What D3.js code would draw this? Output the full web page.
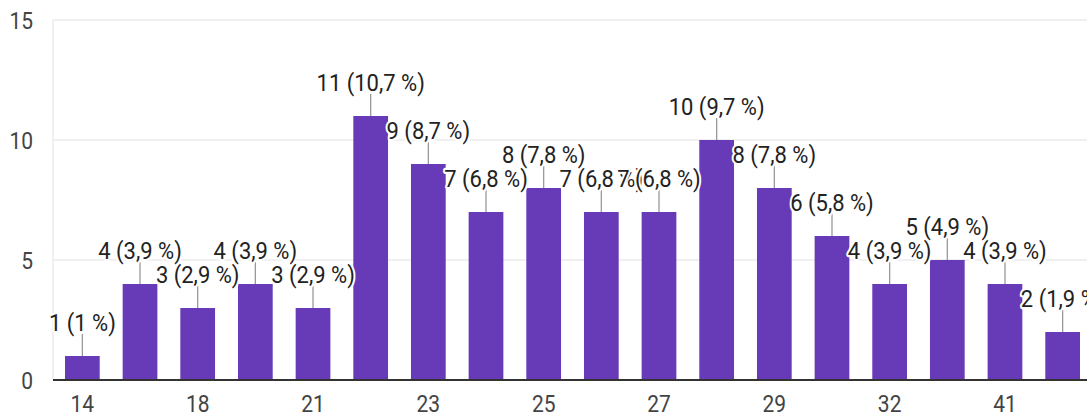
<!DOCTYPE html>
<html>
<head>
<meta charset="utf-8">
<script src="https://cdn.jsdelivr.net/npm/d3@7"></script>
<style>
  html, body { margin: 0; padding: 0; background: #fff; }
  svg { display: block; font-family: Roboto, "Noto Sans", Arial, sans-serif; }
</style>
</head>
<body>
<div class="chart"></div>
<script>
// answers (age) and how many people gave them
const ages = ['14', '16', '18', '19', '21', '22', '23', '24', '25', '26', '27', '28', '29', '30', '32', '35', '41', '45'];
const counts = [1, 4, 3, 4, 3, 11, 9, 7, 8, 7, 7, 10, 8, 6, 4, 5, 4, 2];
const yTicks = [0, 5, 10, 15];

const width = 1087, height = 418;
const barColor = '#673ab7';
const stretch = 1.15;   // the text in the picture is a bit taller than Roboto

const svg = d3.select('.chart')
  .append('svg')
    .attr('width', width)
    .attr('height', height);

const total = d3.sum(counts);
const data = ages.map((a, i) => ({ age: a, cnt: counts[i], idx: i }));

const x = d3.scaleBand()
  .domain(ages)
  .range([53, 1092])
  .paddingInner(0.398)
  .paddingOuter(0.208);

const y = d3.scaleLinear()
  .domain([0, 15])
  .range([380, 20]);

// gridlines
svg.append('g')
  .selectAll('line')
  .data(yTicks.filter(d => d > 0))
  .enter().append('line')
    .attr('x1', 53).attr('x2', width)
    .attr('y1', d => y(d)).attr('y2', d => y(d))
    .attr('stroke', '#ebebeb')
    .attr('stroke-width', 1.5);

svg.append('line')
  .attr('x1', 53).attr('x2', 53)
  .attr('y1', y(15)).attr('y2', y(0))
  .attr('stroke', '#ebebeb')
  .attr('stroke-width', 1.5);

// y axis labels
const yAxis = d3.axisLeft(y).tickValues(yTicks).tickSize(0).tickPadding(0);
const yAxisGroup = svg.append('g')
  .attr('transform', 'translate(33, 0)')
  .call(yAxis);
yAxisGroup.select('.domain').remove();
yAxisGroup.selectAll('text')
  .attr('x', 0).attr('y', 0).attr('dy', 0)
  .attr('transform', `translate(0, 8.5) scale(1, ${stretch})`)
  .attr('fill', '#444')
  .attr('font-size', 21)
  .attr('font-family', 'Roboto, sans-serif');

// bars
svg.append('g')
  .selectAll('rect')
  .data(data)
  .enter().append('rect')
    .attr('x', d => x(d.age))
    .attr('width', x.bandwidth())
    .attr('y', d => y(d.cnt))
    .attr('height', d => y(0) - y(d.cnt))
    .attr('fill', barColor);

// baseline
svg.append('line')
  .attr('x1', 53).attr('x2', width)
  .attr('y1', y(0)).attr('y2', y(0))
  .attr('stroke', '#333')
  .attr('stroke-width', 2);

// x axis, only every other answer is labelled
const xAxis = d3.axisBottom(x)
  .tickValues(ages.filter((a, i) => i % 2 === 0))
  .tickSize(0)
  .tickPadding(0);
const xAxisGroup = svg.append('g')
  .attr('transform', 'translate(0, 412)')
  .call(xAxis);
xAxisGroup.select('.domain').remove();
xAxisGroup.selectAll('text')
  .attr('y', 0).attr('dy', 0)
  .attr('transform', `scale(1, ${stretch})`)
  .attr('fill', '#444')
  .attr('font-size', 21)
  .attr('font-family', 'Roboto, sans-serif');

// leader lines
svg.append('g')
  .selectAll('line')
  .data(data)
  .enter().append('line')
    .attr('x1', d => x(d.age) + x.bandwidth() / 2)
    .attr('x2', d => x(d.age) + x.bandwidth() / 2)
    .attr('y1', d => y(d.cnt))
    .attr('y2', d => y(d.cnt) - 22)
    .attr('stroke', '#999')
    .attr('stroke-width', 1.3);

const pct = d => {
  let p = (d.cnt / total * 100).toFixed(1);
  if (p.endsWith('.0')) p = p.slice(0, -2);
  return d.cnt + ' (' + p.replace('.', ',') + ' %)';
};

// value labels with a white halo
svg.append('g')
  .selectAll('text')
  .data(data)
  .enter().append('text')
    .attr('transform', d => `translate(${x(d.age) + x.bandwidth() / 2}, ${y(d.cnt) - 25}) scale(1, 1.08)`)
    .attr('text-anchor', 'middle')
    .attr('font-size', 22)
    .attr('fill', '#222')
    .attr('stroke', '#fff')
    .attr('stroke-width', 4)
    .attr('stroke-linejoin', 'round')
    .attr('paint-order', 'stroke')
    .text(pct);
</script>
</body>
</html>
